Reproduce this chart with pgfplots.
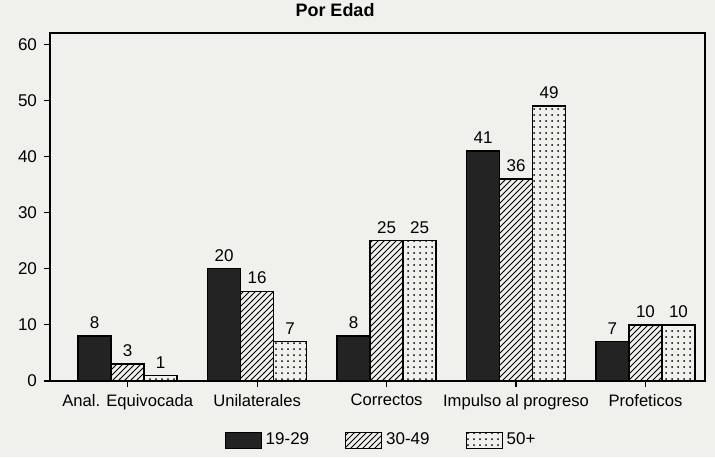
\documentclass[border=0pt]{standalone}
\usepackage{pgfplots}
\pgfplotsset{compat=1.18}
\usetikzlibrary{patterns}
\usepackage{fontspec}
\setmainfont{Liberation Sans}
\definecolor{paper}{RGB}{240,240,237}
\definecolor{ink}{RGB}{35,35,35}
\begin{document}
\begin{tikzpicture}
\useasboundingbox[fill=paper] (-25pt,-38pt) rectangle (332.5pt,190.5pt);
\node[anchor=north,font=\bfseries\fontsize{9}{10}\selectfont,inner sep=1pt] at (142.5pt,190pt) {Por Edad};
\begin{axis}[
  scale only axis, width=327.5pt, height=174pt,
  ybar=0pt, bar width=16.5pt,
  xmin=-0.6, xmax=4.46, ymin=0, ymax=62,
  xtick=data,
  xticklabels={Anal. Equivocada, Unilaterales, Correctos, Impulso al progreso, Profeticos},
  ytick={0,10,20,30,40,50,60},
  tick style={black, line width=0.6pt},
  xtick pos=bottom, ytick pos=left,
  tick align=outside, major tick length=3pt,
  axis line style={line width=0.8pt},
  /pgf/number format/assume math mode=true,
  yticklabel style={font=\fontsize{8.5}{10}\selectfont},
  xticklabel style={font=\fontsize{8.3}{10}\selectfont},
  nodes near coords,
  every node near coord/.append style={font=\fontsize{8.5}{10}\selectfont, black},
  every axis plot/.append style={line width=0.7pt},
  legend style={at={(0.507,-0.17)}, anchor=center, draw=none, fill=none,
    legend columns=3, font=\fontsize{8.5}{10}\selectfont,
    /tikz/every even column/.append style={column sep=16pt}},
  legend image code/.code={\draw[#1,draw=black,line width=0.5pt] (0pt,-4pt) rectangle (18pt,4pt);},
]
\addplot[draw=black, fill=ink] coordinates {(0,8) (1,20) (2,8) (3,41) (4,7)};
\addplot[draw=black, pattern=north east lines] coordinates {(0,3) (1,16) (2,25) (3,36) (4,10)};
\addplot[draw=black, pattern=dots] coordinates {(0,1) (1,7) (2,25) (3,49) (4,10)};
\legend{19-29, 30-49, 50+}
\end{axis}
\end{tikzpicture}
\end{document}
